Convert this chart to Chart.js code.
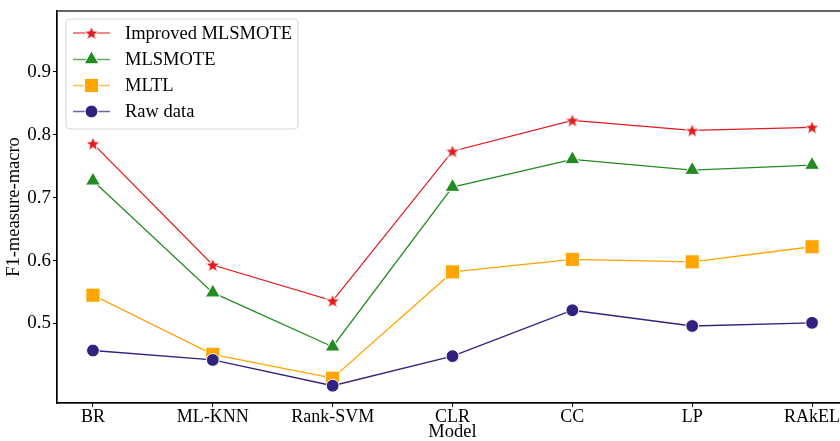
<!DOCTYPE html>
<html>
<head>
<meta charset="utf-8">
<script src="https://cdn.jsdelivr.net/npm/chart.js@4/dist/chart.umd.min.js"></script>
<style>
html,body{margin:0;padding:0;background:#fff;overflow:hidden;}
#wrap{position:absolute;left:0;top:0;width:870px;height:441px;}
</style>
</head>
<body>
<div id="wrap"><canvas id="c" width="870" height="441"></canvas></div>
<script>
const categories = ['BR','ML-KNN','Rank-SVM','CLR','CC','LP','RAkEL'];
const improvedMLSMOTE = [0.786,0.593,0.536,0.774,0.823,0.807,0.812];
const mlsmote = [0.727,0.549,0.463,0.717,0.761,0.744,0.752];
const mltl = [0.545,0.451,0.413,0.582,0.602,0.598,0.622];
const rawData = [0.457,0.442,0.401,0.448,0.521,0.496,0.501];
const yTicks = [0.5,0.6,0.7,0.8,0.9];
const seriesNames = ['Improved MLSMOTE','MLSMOTE','MLTL','Raw data'];

const FONT = "'Liberation Serif','Times New Roman',serif";
const RED = '#e41a1c', GREEN = '#228b22', ORANGE = '#ffa500', PURPLE = '#34207f';

function makeStar(color){
  const s = 20, c = document.createElement('canvas');
  c.width = s; c.height = s;
  const g = c.getContext('2d');
  const R = 7.8, r = 3.2, cx = s/2, cy = s/2 + 0.6;
  g.beginPath();
  for(let i=0;i<10;i++){
    const rad = (i%2===0)?R:r;
    const a = -Math.PI/2 + i*Math.PI/5;
    const px = cx + rad*Math.cos(a), py = cy + rad*Math.sin(a);
    if(i===0) g.moveTo(px,py); else g.lineTo(px,py);
  }
  g.closePath();
  g.fillStyle = color; g.fill();
  g.lineWidth = 1; g.strokeStyle = '#fff'; g.stroke();
  return c;
}
const starImg = makeStar(RED);

function pts(arr){ return arr.map((v,i)=>({x:i,y:v})); }

const markerCfg = [
  {style: starImg, radius: 8, color: RED},
  {style: 'triangle', radius: 8.6, color: GREEN},
  {style: 'rect', radius: 10, color: ORANGE},
  {style: 'circle', radius: 6.4, color: PURPLE}
];
const seriesData = [improvedMLSMOTE, mlsmote, mltl, rawData];

const datasets = seriesData.map((d,i)=>({
  label: seriesNames[i],
  data: pts(d),
  borderColor: markerCfg[i].color,
  backgroundColor: markerCfg[i].color,
  borderWidth: 1.3,
  pointStyle: markerCfg[i].style,
  pointRadius: markerCfg[i].radius,
  pointHoverRadius: markerCfg[i].radius,
  pointBackgroundColor: markerCfg[i].color,
  pointBorderColor: '#ffffff',
  pointBorderWidth: 1,
  tension: 0,
  fill: false,
  order: 3 - i
}));

function drawMarker(ctx, cfg, x, y){
  ctx.save();
  if(cfg.style instanceof HTMLCanvasElement){
    ctx.drawImage(cfg.style, x - cfg.style.width/2, y - cfg.style.height/2);
  } else {
    ctx.fillStyle = cfg.color; ctx.strokeStyle = '#fff'; ctx.lineWidth = 1;
    ctx.beginPath();
    const r = cfg.radius;
    if(cfg.style === 'circle'){ ctx.arc(x,y,r,0,Math.PI*2); }
    else if(cfg.style === 'rect'){ const s = r*Math.SQRT1_2; ctx.rect(x-s,y-s,2*s,2*s); }
    else if(cfg.style === 'triangle'){
      let a = 0;
      ctx.moveTo(x+Math.sin(a)*r, y-Math.cos(a)*r); a += 2*Math.PI/3;
      ctx.lineTo(x+Math.sin(a)*r, y-Math.cos(a)*r); a += 2*Math.PI/3;
      ctx.lineTo(x+Math.sin(a)*r, y-Math.cos(a)*r);
      ctx.closePath();
    }
    ctx.fill(); ctx.stroke();
  }
  ctx.restore();
}

const framePlugin = {
  id: 'frame',
  afterDatasetsDraw(chart){
    const {ctx, chartArea:a} = chart;
    ctx.save();
    ctx.strokeStyle = '#000'; ctx.lineWidth = 1.2;
    ctx.strokeRect(a.left, a.top, a.right - a.left, a.bottom - a.top);
    // legend
    const lx = 66, ly = 19, lw = 232, lh = 110, rr = 4;
    ctx.beginPath();
    ctx.moveTo(lx+rr, ly);
    ctx.lineTo(lx+lw-rr, ly); ctx.quadraticCurveTo(lx+lw, ly, lx+lw, ly+rr);
    ctx.lineTo(lx+lw, ly+lh-rr); ctx.quadraticCurveTo(lx+lw, ly+lh, lx+lw-rr, ly+lh);
    ctx.lineTo(lx+rr, ly+lh); ctx.quadraticCurveTo(lx, ly+lh, lx, ly+lh-rr);
    ctx.lineTo(lx, ly+rr); ctx.quadraticCurveTo(lx, ly, lx+rr, ly);
    ctx.closePath();
    ctx.fillStyle = 'rgba(255,255,255,0.85)'; ctx.fill();
    ctx.strokeStyle = '#d6d6d6'; ctx.lineWidth = 1; ctx.stroke();
    const rows = [33, 59.5, 85.5, 111.5];
    ctx.font = '18.5px ' + FONT;
    ctx.textBaseline = 'middle'; ctx.textAlign = 'left';
    seriesNames.forEach((name,i)=>{
      const y = rows[i];
      ctx.save();
      ctx.globalAlpha = 0.7;
      ctx.strokeStyle = markerCfg[i].color; ctx.lineWidth = 1.3;
      ctx.beginPath(); ctx.moveTo(73, y); ctx.lineTo(110, y); ctx.stroke();
      ctx.restore();
      drawMarker(ctx, markerCfg[i], 91.5, y);
      ctx.fillStyle = '#000';
      ctx.fillText(name, 125, y + 1);
    });
    ctx.restore();
  }
};

new Chart(document.getElementById('c'), {
  type: 'line',
  data: { datasets },
  options: {
    responsive: false,
    animation: false,
    events: [],
    layout: { padding: { top: 10, right: 22, left: 0, bottom: 0 } },
    plugins: { legend: { display: false }, tooltip: { enabled: false } },
    scales: {
      x: {
        type: 'linear',
        min: -0.3, max: 6.3,
        afterBuildTicks: s => { s.ticks = categories.map((_,i)=>({value:i})); },
        afterFit: s => { s.height = 38; },
        ticks: {
          callback: v => categories[v],
          font: { family: FONT, size: 18 },
          color: '#000', padding: -1, maxRotation: 0, autoSkip: false
        },
        grid: { drawOnChartArea: false, drawTicks: true, tickLength: 4, color: '#000', tickWidth: 1 },
        border: { display: true, color: '#000', width: 1.2 },
        title: { display: true, text: 'Model', font: { family: FONT, size: 18.5, lineHeight: 1.0 }, color: '#000', padding: { top: 0, bottom: 0 } }
      },
      y: {
        type: 'linear',
        min: 0.3735, max: 0.997,
        afterBuildTicks: s => { s.ticks = yTicks.map(v=>({value:v})); },
        afterFit: s => { s.width = 57; },
        ticks: {
          callback: v => v.toFixed(1),
          font: { family: FONT, size: 19, lineHeight: 0.9 },
          color: '#000', padding: 2
        },
        grid: { drawOnChartArea: false, drawTicks: true, tickLength: 4, color: '#000', tickWidth: 1 },
        border: { display: true, color: '#000', width: 1.2 },
        title: { display: true, text: 'F1-measure-macro', font: { family: FONT, size: 18.5 }, color: '#000', padding: { top: 3, bottom: 0 } }
      }
    }
  },
  plugins: [framePlugin]
});
</script>
</body>
</html>
